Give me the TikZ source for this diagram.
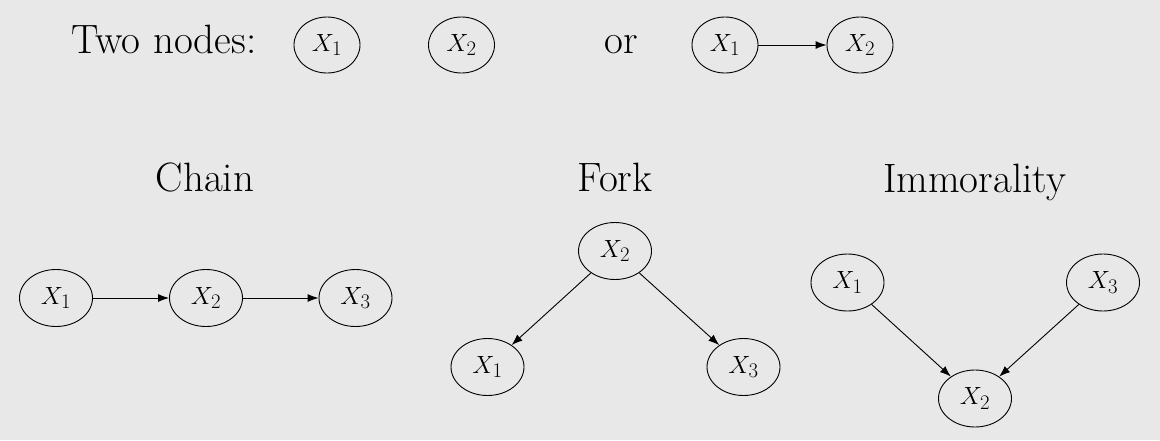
\documentclass[tikz,border=0pt]{standalone}
\usetikzlibrary{shapes.geometric,arrows.meta}
\definecolor{bg}{RGB}{232,232,232}
\tikzset{
  var/.style={draw=black, line width=0.9pt, ellipse, inner sep=0pt, minimum width=73pt, minimum height=57pt, font=\fontsize{28}{30}\selectfont},
  topvar/.style={var, minimum width=66pt, minimum height=56pt},
  title/.style={anchor=base, inner sep=0pt, font=\fontsize{41}{43}\selectfont},
  edge/.style={line width=0.9pt, -{Latex[length=11pt,width=8pt]}},
}
\begin{document}
\begin{tikzpicture}[x=1pt,y=-1pt]
\fill[bg] (0,0) rectangle (1160,440);
\useasboundingbox (0,0) rectangle (1160,440);
% top row
\node[title] (twonodes) at (164,53) {Two nodes:};
\node[topvar] (a1) at (327,45) {$X_1$};
\node[topvar] (a2) at (461.5,45) {$X_2$};
\node[title] (or) at (621,53) {or};
\node[topvar] (b1) at (725,45) {$X_1$};
\node[topvar] (b2) at (860,45) {$X_2$};
\draw[edge] (b1) -- (b2);
% chain
\node[title] (chain) at (205,191) {Chain};
\node[var] (c1) at (56,298) {$X_1$};
\node[var] (c2) at (206,298) {$X_2$};
\node[var] (c3) at (355.5,298) {$X_3$};
\draw[edge] (c1) -- (c2);
\draw[edge] (c2) -- (c3);
% fork
\node[title] (fork) at (615,191) {Fork};
\node[var] (f2) at (615,251) {$X_2$};
\node[var] (f1) at (487.5,367) {$X_1$};
\node[var] (f3) at (743.5,367) {$X_3$};
\draw[edge] (f2) -- (f1);
\draw[edge] (f2) -- (f3);
% immorality
\node[title] (imm) at (974.5,192) {Immorality};
\node[var] (i1) at (847.5,282.5) {$X_1$};
\node[var] (i3) at (1103,282.5) {$X_3$};
\node[var] (i2) at (975,398.5) {$X_2$};
\draw[edge] (i1) -- (i2);
\draw[edge] (i3) -- (i2);
\end{tikzpicture}
\end{document}
